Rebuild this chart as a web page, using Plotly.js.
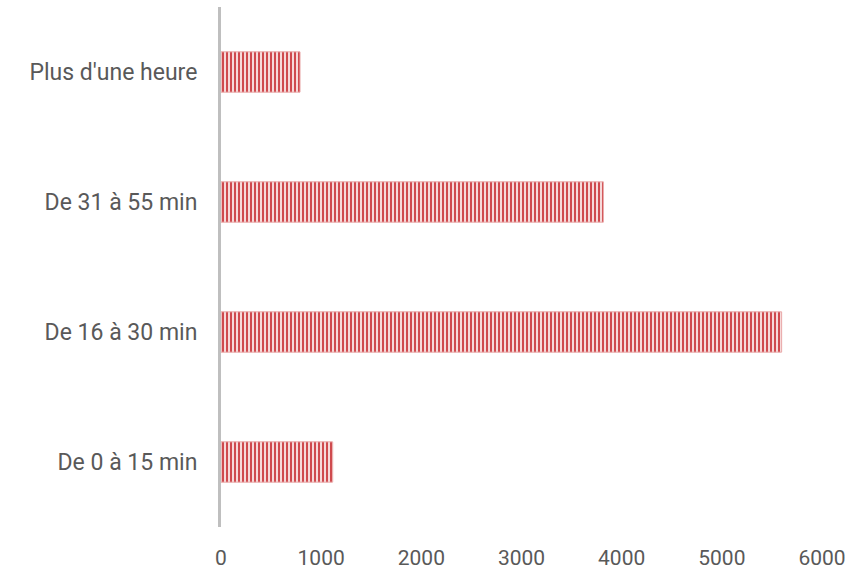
<!DOCTYPE html>
<html>
<head>
<meta charset="utf-8">
<script src="https://cdn.plot.ly/plotly-3.0.1.min.js"></script>
<style>html,body{margin:0;padding:0;background:#fff;}#chart{width:865px;height:569px;}</style>
</head>
<body>
<div id="chart"></div>
<script>
const categories = ['De 0 à 15 min', 'De 16 à 30 min', 'De 31 à 55 min', "Plus d'une heure"];
const values = [1115, 5597, 3817, 789];
const xTicks = [0, 1000, 2000, 3000, 4000, 5000, 6000];

const trace = {
  type: 'bar',
  orientation: 'h',
  y: categories,
  x: values,
  width: 0.31,
  marker: {
    color: '#f4d2d2',
    line: {color: '#e8a7a7', width: 1},
    pattern: {shape: '|', fgcolor: '#cf4a4e', bgcolor: '#f6dada', size: 4, solidity: 0.5}
  },
  hoverinfo: 'none'
};

const layout = {
  width: 865, height: 569,
  margin: {l: 221, r: 43, t: 7, b: 42},
  paper_bgcolor: '#ffffff', plot_bgcolor: '#ffffff',
  showlegend: false,
  xaxis: {
    range: [0, 6000],
    tickvals: xTicks,
    ticktext: xTicks.map(String),
    showgrid: false, zeroline: false, showline: false,
    ticks: '',
    tickfont: {family: 'Roboto', size: 21, color: '#595959'},
    ticklabelstandoff: 16
  },
  yaxis: {
    type: 'category',
    categoryorder: 'array',
    categoryarray: categories,
    showgrid: false, zeroline: false,
    showline: true, linecolor: '#bfbfbf', linewidth: 3,
    ticks: '',
    tickfont: {family: 'Roboto', size: 23, color: '#595959'},
    ticklabelstandoff: 16
  }
};

Plotly.newPlot('chart', [trace], layout, {staticPlot: true, displayModeBar: false});
</script>
</body>
</html>
